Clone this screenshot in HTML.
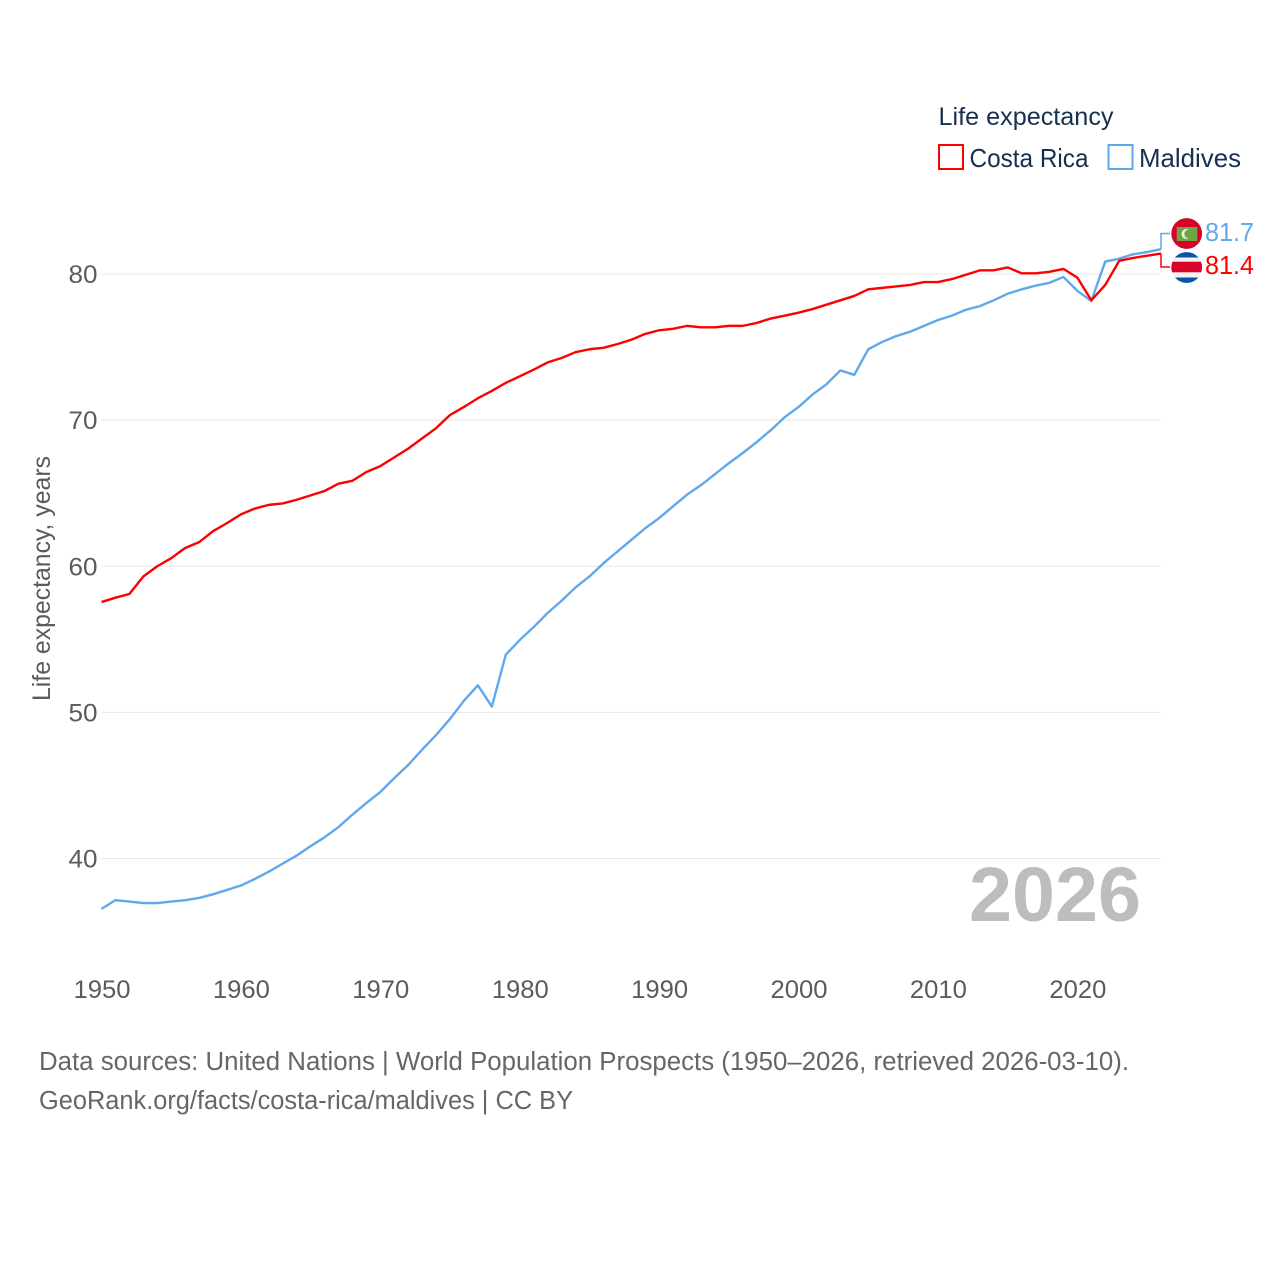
<!DOCTYPE html>
<html lang="en">
<head>
<meta charset="utf-8">
<title>Life expectancy: Costa Rica and Maldives</title>
<style>
html,body{margin:0;padding:0;background:#fff;width:1280px;height:1280px;overflow:hidden}
svg{display:block;font-family:"Liberation Sans",sans-serif}
</style>
</head>
<body>
<svg id="chart" xmlns="http://www.w3.org/2000/svg" width="1280" height="1280" viewBox="0 0 1280 1280">
  <rect x="0" y="0" width="1280" height="1280" fill="#fff"/>
  <g id="grid"></g>
  <g id="yticks"></g>
  <g id="xticks"></g>
  <text transform="translate(50,701) rotate(-90)" font-size="25" fill="#5b5b5b" textLength="245" lengthAdjust="spacingAndGlyphs">Life expectancy, years</text>
  <text x="969" y="921" font-size="77" font-weight="700" fill="#bdbdbd" textLength="172" lengthAdjust="spacingAndGlyphs">2026</text>
  <g id="series"></g>

  <g>
    <text x="938.5" y="125" font-size="25" fill="#18304f" textLength="175" lengthAdjust="spacingAndGlyphs">Life expectancy</text>
    <g>
      <rect x="939" y="145" width="24" height="24" fill="#fff" stroke="#ff0000" stroke-width="2"/>
      <text x="969.5" y="167" font-size="26" fill="#18304f" textLength="119" lengthAdjust="spacingAndGlyphs">Costa Rica</text>
    </g>
    <g>
      <rect x="1108.5" y="145" width="24" height="24" fill="#fff" stroke="#5fa8ee" stroke-width="2"/>
      <text x="1139" y="167" font-size="26" fill="#18304f" textLength="102" lengthAdjust="spacingAndGlyphs">Maldives</text>
    </g>
  </g>

  <g>
    <circle cx="1186.7" cy="233.5" r="15.4" fill="#d8032b"/>
    <rect x="1176.7" y="227" width="20.6" height="14" fill="#6da544"/>
    <circle cx="1186.5" cy="234" r="5" fill="#eef3e6"/>
    <circle cx="1188.7" cy="234" r="4.4" fill="#6da544"/>
  </g>
  <g>
    <clipPath id="cr-clip"><circle cx="1186.7" cy="267.5" r="15.4"/></clipPath>
    <g clip-path="url(#cr-clip)">
      <rect x="1171" y="252" width="32" height="32" fill="#f2f2f2"/>
      <rect x="1171" y="252" width="32" height="5.5" fill="#0a52a8"/>
      <rect x="1171" y="277.5" width="32" height="6" fill="#0a52a8"/>
      <rect x="1171" y="261.7" width="32" height="10.6" fill="#d8032b"/>
    </g>
  </g>
  <text x="1205" y="241" font-size="26" fill="#5fa8ee" textLength="49" lengthAdjust="spacingAndGlyphs">81.7</text>
  <text x="1205" y="274" font-size="26" fill="#ff0000" textLength="49" lengthAdjust="spacingAndGlyphs">81.4</text>

  <text x="39" y="1070" font-size="25.5" fill="#666" textLength="1090" lengthAdjust="spacingAndGlyphs">Data sources: United Nations | World Population Prospects (1950–2026, retrieved 2026-03-10).</text>
  <a><text x="39" y="1109" font-size="25.5" fill="#666" textLength="534" lengthAdjust="spacingAndGlyphs">GeoRank.org/facts/costa-rica/maldives | CC BY</text></a>
</svg>
<script>
const startYear = 1950;
const costaRica = [57.55,57.85,58.1,59.3,60.0,60.55,61.25,61.65,62.4,62.95,63.55,63.95,64.2,64.3,64.55,64.85,65.15,65.65,65.85,66.45,66.85,67.45,68.05,68.75,69.45,70.35,70.9,71.5,72.0,72.55,73.0,73.45,73.95,74.25,74.65,74.85,74.95,75.2,75.5,75.9,76.15,76.25,76.45,76.35,76.35,76.45,76.45,76.65,76.95,77.15,77.35,77.6,77.9,78.2,78.5,78.95,79.05,79.15,79.25,79.45,79.45,79.65,79.95,80.25,80.25,80.45,80.05,80.05,80.15,80.35,79.75,78.2,79.25,80.9,81.1,81.25,81.4];
const maldives = [36.55,37.15,37.05,36.95,36.95,37.05,37.15,37.3,37.55,37.85,38.15,38.6,39.1,39.65,40.2,40.85,41.45,42.15,43.0,43.8,44.55,45.5,46.4,47.45,48.45,49.55,50.8,51.85,50.4,53.95,54.95,55.84,56.8,57.64,58.55,59.3,60.2,61.0,61.8,62.6,63.3,64.1,64.9,65.55,66.3,67.05,67.75,68.5,69.3,70.2,70.9,71.75,72.45,73.4,73.1,74.85,75.35,75.75,76.05,76.45,76.85,77.15,77.55,77.8,78.2,78.65,78.95,79.2,79.4,79.8,78.85,78.15,80.85,81.05,81.35,81.5,81.7];
const yTickValues = [40,50,60,70,80];
const xTickValues = [1950,1960,1970,1980,1990,2000,2010,2020];

const NS = 'http://www.w3.org/2000/svg';
const xScale = function (year) { return 101.5 + (year - 1950) * (1161 - 101.5) / 76; };
const yScale = function (value) { return 274 + (80 - value) * (858.5 - 274) / 40; };

function make(tag, parent, props, content) {
  const node = document.createElementNS(NS, tag);
  Object.keys(props).forEach(function (k) { node.setAttribute(k, props[k]); });
  if (content !== undefined) node.textContent = content;
  parent.appendChild(node);
  return node;
}

const gridGroup = document.getElementById('grid');
const yGroup = document.getElementById('yticks');
const xGroup = document.getElementById('xticks');
const seriesGroup = document.getElementById('series');

yTickValues.forEach(function (v) {
  const line = make('line', gridGroup, {x1: 101.5, x2: 1161, y1: yScale(v), y2: yScale(v), stroke: '#e8e8e8', 'stroke-width': 1});
  
  
  const label = make('text', yGroup, {x: 97.5, y: yScale(v) + 9, 'font-size': 25, fill: '#5b5b5b', 'text-anchor': 'end', textLength: 29, lengthAdjust: 'spacingAndGlyphs'}, String(v));
  
  
});

xTickValues.forEach(function (v) {
  const label = make('text', xGroup, {x: xScale(v) - 28, y: 998, 'font-size': 25, fill: '#5b5b5b', textLength: 57, lengthAdjust: 'spacingAndGlyphs'}, String(v));
  
  
});

function pointsFor(values) {
  return values.map(function (v, i) {
    return xScale(startYear + i).toFixed(2) + ',' + yScale(v).toFixed(2);
  }).join(' ');
}

const maldivesLine = make('polyline', seriesGroup, {points: pointsFor(maldives), fill: 'none', stroke: '#5fa8ee', 'stroke-width': 2.4, 'stroke-linejoin': 'round'});



const costaRicaLine = make('polyline', seriesGroup, {points: pointsFor(costaRica), fill: 'none', stroke: '#ff0000', 'stroke-width': 2.4, 'stroke-linejoin': 'round'});



const endX = xScale(startYear + maldives.length - 1);
const maldivesConnector = make('path', seriesGroup, {d: 'M' + endX + ' ' + yScale(maldives[maldives.length - 1]) + 'V233.5H1170', fill: 'none', stroke: '#5fa8ee', 'stroke-width': 1.5});



const costaRicaConnector = make('path', seriesGroup, {d: 'M' + endX + ' ' + yScale(costaRica[costaRica.length - 1]) + 'V267H1170', fill: 'none', stroke: '#ff0000', 'stroke-width': 1.5});


</script>
</body>
</html>
